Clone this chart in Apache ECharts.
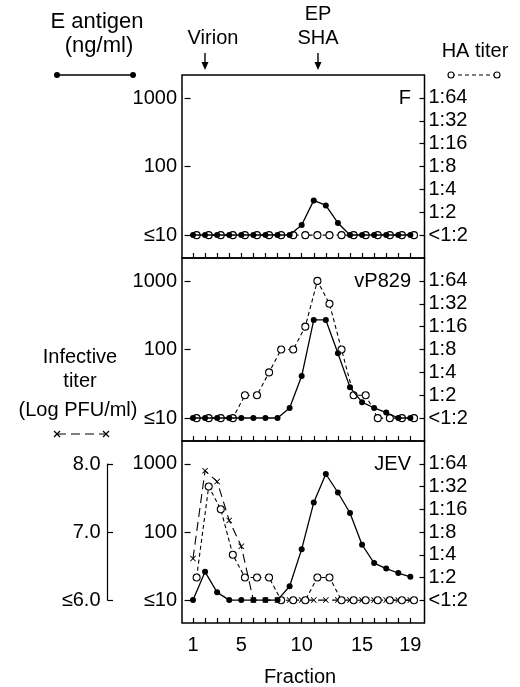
<!DOCTYPE html>
<html>
<head>
<meta charset="utf-8">
<script src="https://cdn.jsdelivr.net/npm/echarts@6/dist/echarts.min.js"></script>
<style>
  html, body { margin: 0; padding: 0; background: #fff; }
  #chart { width: 520px; height: 687px; }
</style>
</head>
<body>
<div id="chart"></div>
<script>
// fractions on the x axis
var fractions = [1, 2, 3, 4, 5, 6, 7, 8, 9, 10, 11, 12, 13, 14, 15, 16, 17, 18, 19];
var fracLabels = [1, 5, 10, 15, 19];

// E antigen (ng/ml), 10 = "<=10"
var eF    = [10, 10, 10, 10, 10, 10, 10, 10, 10, 14, 32, 27, 15, 10, 10, 10, 10, 10, 10];
var eVP   = [10, 10, 10, 10, 10, 10, 10, 10, 14, 41, 270, 270, 88, 28, 17, 14, 12, 10, 10];
var eJEV  = [10, 26, 13, 10, 10, 10, 10, 10, 16, 56, 270, 710, 380, 190, 65, 35, 29, 25, 22];

// HA titer as reciprocal dilution, 1 = "<1:2"
var haF   = [1, 1, 1, 1, 1, 1, 1, 1, 1, 1, 1, 1, 1, 1, 1, 1, 1, 1, 1];
var haVP  = [1, 1, 1, 1, 2, 2, 4, 8, 8, 16, 64, 32, 8, 2, 2, 1, 1, 1, 1];
var haJEV = [2, 32, 16, 4, 2, 2, 2, 1, 1, 1, 2, 2, 1, 1, 1, 1, 1, 1, 1];

// infective titer (log PFU/ml), 6.0 = "<=6.0"
var infJEV = [6.61, 7.90, 7.74, 7.17, 6.79, 6.0, 6.0, 6.0, 6.0, 6.0, 6.0, 6.0, 6.0, 6.0, 6.0, 6.0, 6.0, 6.0, 6.0];

// tick labels
var eTicks = [10, 100, 1000];
var haTicks = [1, 2, 4, 8, 16, 32, 64];
var infTicks = [6, 7, 8];
var panelNames = ['F', 'vP829', 'JEV'];

var FONT = 'Liberation Sans';
var FS = 20;
var xMin = 0.09, xMax = 20.17, haShift = 0.3;
var eMin = 4.613, eMax = 2167.7;

function pairs(ys) {
  return fractions.map(function (f, i) { return [f, ys[i]]; });
}

var panels = [
  { top: 75, height: 183, e: eF, ha: haF },
  { top: 258, height: 183, e: eVP, ha: haVP },
  { top: 441, height: 182, e: eJEV, ha: haJEV }
];

var grid = [], xAxis = [], yAxis = [], series = [];
var xSym = 'path://M0,1L1,0L5,4L9,0L10,1L6,5L10,9L9,10L5,6L1,10L0,9L4,5Z';

panels.forEach(function (p, i) {
  grid.push({
    left: 182, right: 95.5, top: p.top, height: p.height,
    show: true, borderColor: '#000', borderWidth: 1.5, backgroundColor: 'transparent',
    outerBoundsMode: 'none'
  });
  var last = i === panels.length - 1;
  xAxis.push({
    type: 'value', gridIndex: i, min: xMin, max: xMax,
    axisLine: { show: false },
    splitLine: { show: false },
    axisTick: { show: true, inside: true, length: 5, customValues: fractions, lineStyle: { color: '#000', width: 1.2 } },
    axisLabel: { show: last, customValues: fracLabels, margin: 12, color: '#000', fontFamily: FONT, fontSize: FS }
  });
  // HA points sit a little right of the fraction, as in the figure
  xAxis.push({ type: 'value', gridIndex: i, min: xMin - haShift, max: xMax - haShift, show: false });

  yAxis.push({
    type: 'log', gridIndex: i, min: eMin, max: eMax, position: 'left',
    axisLine: { show: false }, splitLine: { show: false },
    axisTick: { show: true, inside: true, length: 6, customValues: eTicks, lineStyle: { color: '#000', width: 1.2 } },
    axisLabel: {
      customValues: eTicks, margin: 5, color: '#000', fontFamily: FONT, fontSize: FS,
      formatter: function (v) { v = Math.round(v); return v === 10 ? '≤10' : String(v); }
    }
  });
  yAxis.push({
    type: 'log', logBase: 2, gridIndex: i, min: 0.5, max: 128, position: 'right',
    axisLine: { show: false }, splitLine: { show: false },
    axisTick: { show: true, inside: true, length: 5, customValues: haTicks, lineStyle: { color: '#000', width: 1.2 } },
    axisLabel: {
      customValues: haTicks, margin: 4, color: '#000', fontFamily: FONT, fontSize: FS,
      formatter: function (v) { v = Math.round(v); return v === 1 ? '<1:2' : '1:' + v; }
    }
  });

  series.push({
    name: 'HA titer', type: 'line', xAxisIndex: 2 * i + 1, yAxisIndex: 2 * i + 1,
    data: pairs(p.ha), symbol: 'circle', symbolSize: 7, z: 3,
    itemStyle: { color: '#fff', borderColor: '#000', borderWidth: 1.1 },
    lineStyle: { color: '#000', width: 1.1, type: [4, 3] }
  });
  series.push({
    name: 'E antigen', type: 'line', xAxisIndex: 2 * i, yAxisIndex: 2 * i,
    data: pairs(p.e), symbol: 'circle', symbolSize: 6, z: 4,
    itemStyle: { color: '#000' },
    lineStyle: { color: '#000', width: 1.3 }
  });
});

// infective titer on the JEV panel (hidden scale) + its bracket axis
yAxis.push({ type: 'value', gridIndex: 2, min: 5.664, max: 8.336, show: false });
grid.push({ left: 107.5, width: 20, top: 464, height: 136, show: false, outerBoundsMode: 'none' });
xAxis.push({ type: 'value', gridIndex: 3, min: 0, max: 1, show: false });
yAxis.push({
  type: 'value', gridIndex: 3, min: 6, max: 8, position: 'left',
  axisLine: { show: true, lineStyle: { color: '#000', width: 1.2 } },
  splitLine: { show: false },
  axisTick: { show: true, inside: true, length: 5.5, customValues: infTicks, lineStyle: { color: '#000', width: 1.2 } },
  axisLabel: {
    customValues: infTicks, margin: 7, color: '#000', fontFamily: FONT, fontSize: FS,
    formatter: function (v) { return v === 6 ? '≤6.0' : v.toFixed(1); }
  }
});
series.push({
  name: 'Infective titer', type: 'line', xAxisIndex: 4, yAxisIndex: 6,
  data: pairs(infJEV), symbol: xSym, symbolSize: 6, z: 2,
  itemStyle: { color: '#000' },
  lineStyle: { color: '#000', width: 1.1, type: [9, 5] }
});

function txt(x, y, s, align, size) {
  return {
    type: 'text', x: x, y: y, silent: true,
    style: { text: s, fill: '#000', fontFamily: FONT, fontSize: size || FS, align: align || 'center', verticalAlign: 'middle' }
  };
}
function seg(x1, y1, x2, y2, w, dash) {
  return { type: 'line', silent: true, shape: { x1: x1, y1: y1, x2: x2, y2: y2 }, style: { stroke: '#000', lineWidth: w || 1.2, lineDash: dash || null } };
}
function cross(cx, cy) {
  return [seg(cx - 3, cy - 3, cx + 3, cy + 3), seg(cx + 3, cy - 3, cx - 3, cy + 3)];
}
function arrow(x, y0, y1) {
  return [
    seg(x, y0, x, y1 - 6, 1.4),
    { type: 'polygon', silent: true, shape: { points: [[x - 3.5, y1 - 8], [x + 3.5, y1 - 8], [x, y1]] }, style: { fill: '#000' } }
  ];
}

var graphics = [
  txt(97, 22, 'E antigen', 'center', 22), txt(99, 46, '(ng/ml)', 'center', 22),
  seg(57, 75, 133, 75, 1.4),
  { type: 'circle', silent: true, shape: { cx: 57, cy: 75, r: 3 }, style: { fill: '#000' } },
  { type: 'circle', silent: true, shape: { cx: 133, cy: 75, r: 3 }, style: { fill: '#000' } },
  txt(213, 38, 'Virion'), txt(318, 14, 'EP'), txt(318, 38, 'SHA'),
  txt(475, 51, 'HA titer'),
  seg(451, 75, 497, 75, 1.1, [4, 3]),
  { type: 'circle', silent: true, shape: { cx: 451, cy: 75, r: 3 }, style: { fill: '#fff', stroke: '#000', lineWidth: 1.1 } },
  { type: 'circle', silent: true, shape: { cx: 497, cy: 75, r: 3 }, style: { fill: '#fff', stroke: '#000', lineWidth: 1.1 } },
  txt(80, 357, 'Infective'), txt(80, 381, 'titer'), txt(78, 410, '(Log PFU/ml)'),
  seg(57, 434, 106, 434, 1.1, [9, 5]),
  txt(411, 98, panelNames[0], 'right'), txt(411, 281, panelNames[1], 'right'), txt(411, 464, panelNames[2], 'right'),
  txt(300, 677, 'Fraction')
].concat(cross(57, 434)).concat(cross(106, 434)).concat(arrow(205, 53, 70)).concat(arrow(318, 53, 70));

var chart = echarts.init(document.getElementById('chart'), null, { renderer: 'canvas' });
chart.setOption({
  animation: false,
  backgroundColor: '#fff',
  grid: grid,
  xAxis: xAxis,
  yAxis: yAxis,
  series: series,
  graphic: graphics
});
</script>
</body>
</html>
